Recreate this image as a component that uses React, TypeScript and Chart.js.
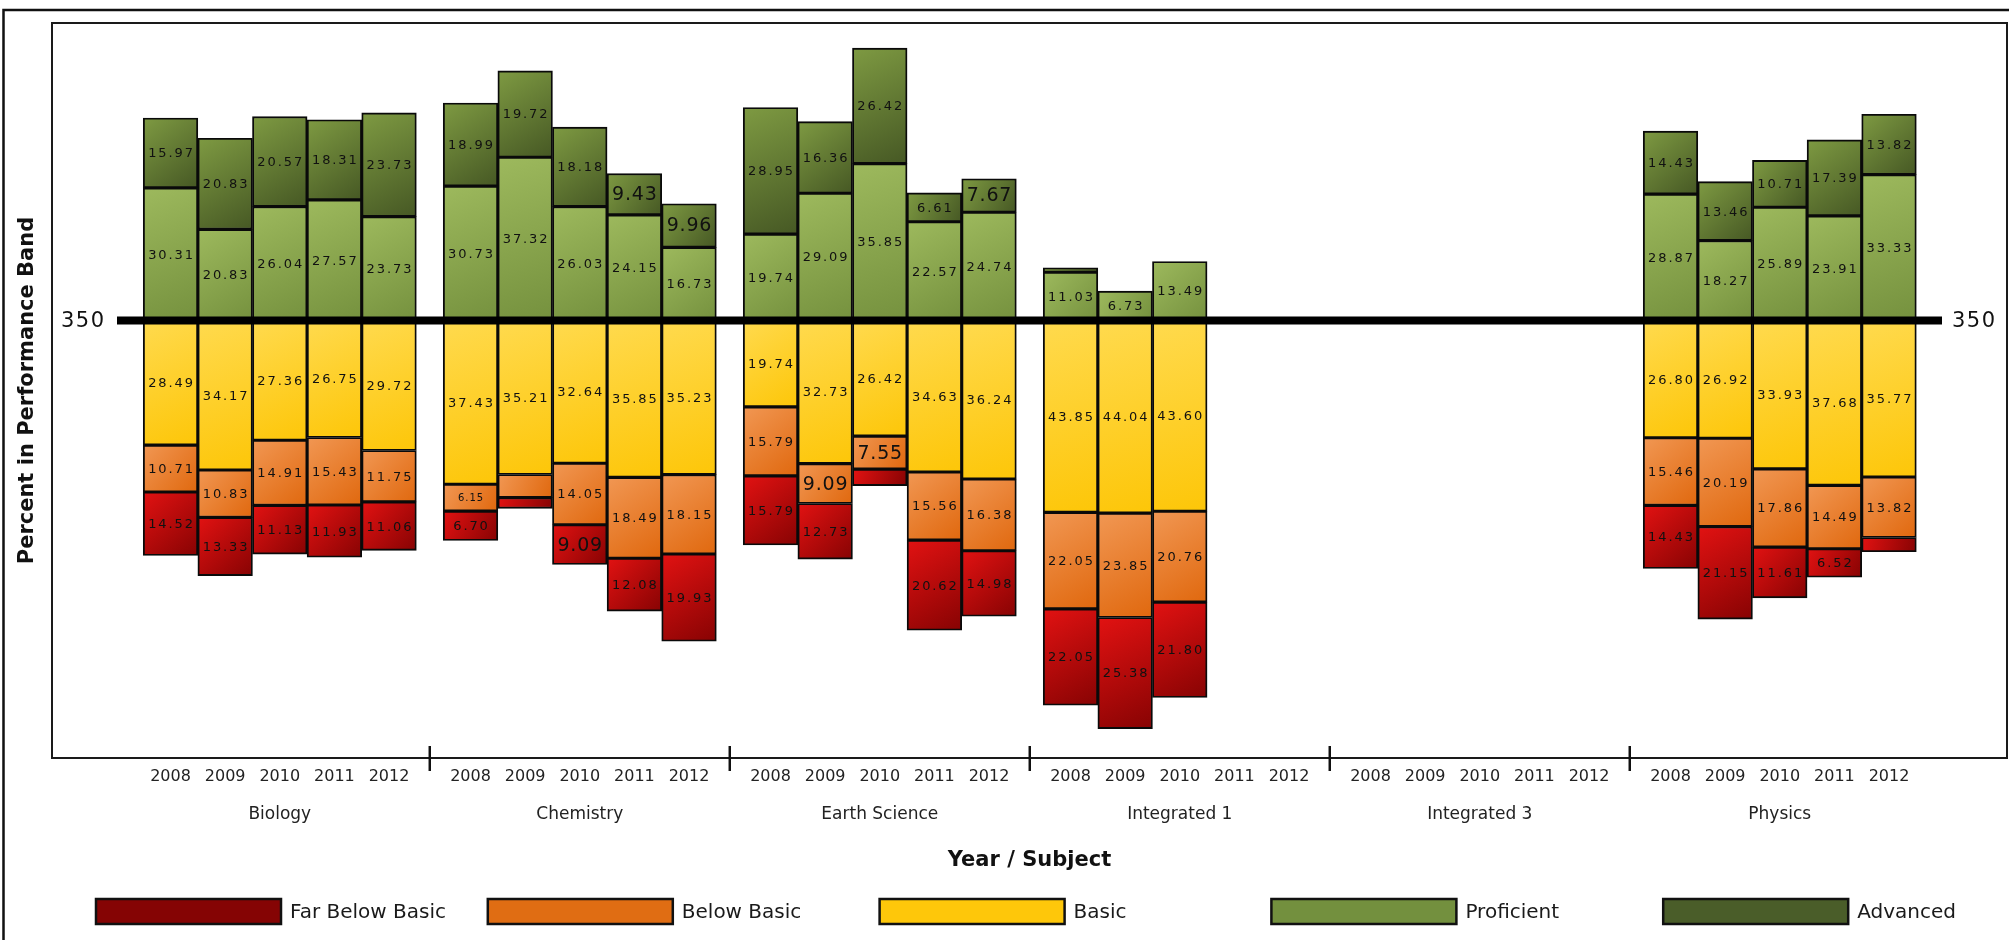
import { useEffect, useRef } from 'react';
import { Chart, registerables } from 'chart.js';

Chart.register(...registerables);

// ---------------- data ----------------
const SUBJECTS = ['Biology', 'Chemistry', 'Earth Science', 'Integrated 1', 'Integrated 3', 'Physics'];
const YEARS = ['2008', '2009', '2010', '2011', '2012'];

// values are percents, ordered subject by subject, year by year (null = no data)
const FAR_BELOW_BASIC = [
  14.52, 13.33, 11.13, 11.93, 11.06,
  6.70, 2.46, 9.09, 12.08, 19.93,
  15.79, 12.73, 3.76, 20.62, 14.98,
  22.05, 25.38, 21.80, null, null,
  null, null, null, null, null,
  14.43, 21.15, 11.61, 6.52, 3.26,
];
const BELOW_BASIC = [
  10.71, 10.83, 14.91, 15.43, 11.75,
  6.15, 5.28, 14.05, 18.49, 18.15,
  15.79, 9.09, 7.55, 15.56, 16.38,
  22.05, 23.85, 20.76, null, null,
  null, null, null, null, null,
  15.46, 20.19, 17.86, 14.49, 13.82,
];
const BASIC = [
  28.49, 34.17, 27.36, 26.75, 29.72,
  37.43, 35.21, 32.64, 35.85, 35.23,
  19.74, 32.73, 26.42, 34.63, 36.24,
  43.85, 44.04, 43.60, null, null,
  null, null, null, null, null,
  26.80, 26.92, 33.93, 37.68, 35.77,
];
const PROFICIENT = [
  30.31, 20.83, 26.04, 27.57, 23.73,
  30.73, 37.32, 26.03, 24.15, 16.73,
  19.74, 29.09, 35.85, 22.57, 24.74,
  11.03, 6.73, 13.49, null, null,
  null, null, null, null, null,
  28.87, 18.27, 25.89, 23.91, 33.33,
];
const ADVANCED = [
  15.97, 20.83, 20.57, 18.31, 23.73,
  18.99, 19.72, 18.18, 9.43, 9.96,
  28.95, 16.36, 26.42, 6.61, 7.67,
  1.02, null, null, null, null,
  null, null, null, null, null,
  14.43, 13.46, 10.71, 17.39, 13.82,
];

const CUT_SCORE_LABEL = '350';
const Y_MIN = -100;
const Y_MAX = 68;

// label emphasis quirks of the original (style only)
const BIG_LABELS = new Set(['Advanced|8', 'Advanced|9', 'Far Below Basic|7', 'Below Basic|11', 'Below Basic|12', 'Advanced|14']);
const SMALL_LABELS = new Set(['Below Basic|5']);

// ---------------- layout helpers ----------------
const GROUP_STRIDE = 5.492;
const X_MIN = -2.17;
const X_MAX = 5 * GROUP_STRIDE + 4 + 2.16;
const BAR_PX = 54.6;
const FONT = 'DejaVu Sans';

const xPos = (i: number) => Math.floor(i / 5) * GROUP_STRIDE + (i % 5);
const TICK_POS = SUBJECTS.flatMap((_, g) => YEARS.map((__, j) => g * GROUP_STRIDE + j));
const GROUP_CENTERS = SUBJECTS.map((_, g) => g * GROUP_STRIDE + 2);

type Series = { label: string; values: (number | null)[]; sign: number; light: string; dark: string; solid: string };

const SERIES: Series[] = [
  { label: 'Basic', values: BASIC, sign: -1, light: '#ffda4e', dark: '#fdc608', solid: '#fec70a' },
  { label: 'Below Basic', values: BELOW_BASIC, sign: -1, light: '#f19753', dark: '#e0680e', solid: '#e06d13' },
  { label: 'Far Below Basic', values: FAR_BELOW_BASIC, sign: -1, light: '#e21212', dark: '#870303', solid: '#850404' },
  { label: 'Proficient', values: PROFICIENT, sign: 1, light: '#9db95d', dark: '#75913e', solid: '#73903e' },
  { label: 'Advanced', values: ADVANCED, sign: 1, light: '#7e9a42', dark: '#465824', solid: '#4a5d29' },
];
const LEGEND_ORDER = ['Far Below Basic', 'Below Basic', 'Basic', 'Proficient', 'Advanced'];

function makeBg(sIdx: number) {
  return (c: any) => {
    const s = SERIES[sIdx];
    const chart = c.chart;
    const area = chart.chartArea;
    if (!area || c.type !== 'data' || !chart.scales.x || !chart.scales.y) return s.solid;
    const i = c.dataIndex;
    const v = s.values[i];
    if (v == null) return s.solid;
    let start = 0;
    for (let k = 0; k < sIdx; k++) {
      if (SERIES[k].sign === s.sign) start += SERIES[k].values[i] ?? 0;
    }
    const end = start + v;
    const ys = chart.scales.y;
    const xs = chart.scales.x;
    const y0 = ys.getPixelForValue(s.sign * start);
    const y1 = ys.getPixelForValue(s.sign * end);
    const xc = xs.getPixelForValue(xPos(i));
    const g = chart.ctx.createLinearGradient(xc - BAR_PX / 2, Math.min(y0, y1), xc + BAR_PX / 2, Math.max(y0, y1));
    g.addColorStop(0, s.light);
    g.addColorStop(1, s.dark);
    return g;
  };
}

const decorPlugin = {
  id: 'decor',
  beforeDraw(chart: any) {
    const { ctx, chartArea: a } = chart;
    ctx.save();
    ctx.fillStyle = '#ffffff';
    ctx.fillRect(0, 0, chart.width, chart.height);
    ctx.strokeStyle = '#111';
    ctx.lineWidth = 2.5;
    ctx.strokeRect(3.5, 10, chart.width + 40, chart.height + 40);
    ctx.lineWidth = 2;
    ctx.strokeStyle = '#1a1a1a';
    ctx.strokeRect(a.left, a.top, a.right - a.left, a.bottom - a.top);
    ctx.restore();
  },
  afterDatasetsDraw(chart: any) {
    const { ctx, chartArea: a } = chart;
    const xs = chart.scales.x;
    const ys = chart.scales.y;
    ctx.save();
    // value labels
    ctx.textAlign = 'center';
    ctx.textBaseline = 'middle';
    ctx.fillStyle = '#111';
    chart.data.datasets.forEach((ds: any, d: number) => {
      const meta = chart.getDatasetMeta(d);
      const s = SERIES[d];
      meta.data.forEach((el: any, i: number) => {
        const v = s.values[i];
        if (v == null || v < 6) return;
        const key = s.label + '|' + i;
        let size = 13;
        let spacing = 1.9;
        if (BIG_LABELS.has(key)) { size = 19; spacing = 0.8; }
        if (SMALL_LABELS.has(key)) { size = 10; spacing = 1; }
        ctx.font = `${size}px "${FONT}"`;
        (ctx as any).letterSpacing = `${spacing}px`;
        const { x, y, base } = el.getProps(['x', 'y', 'base'], true);
        ctx.fillText(v.toFixed(2), x + spacing / 2, (y + base) / 2 + 1);
      });
    });

    // cut score line
    const y0 = ys.getPixelForValue(0);
    ctx.fillStyle = '#000';
    ctx.fillRect(a.left + 65, y0 - 4, a.right - a.left - 130, 8);
    ctx.font = `21px "${FONT}"`;
    (ctx as any).letterSpacing = '1.5px';
    ctx.textAlign = 'left';
    ctx.fillStyle = '#111';
    ctx.fillText(CUT_SCORE_LABEL, a.left + 9, y0 + 1);
    ctx.fillText(CUT_SCORE_LABEL, a.right - 55, y0 + 1);
    (ctx as any).letterSpacing = '0px';

    // group separators on the axis
    ctx.strokeStyle = '#111';
    ctx.lineWidth = 2.5;
    for (let g = 1; g < SUBJECTS.length; g++) {
      const px = xs.getPixelForValue(g * GROUP_STRIDE - (GROUP_STRIDE - 4) / 2);
      ctx.beginPath();
      ctx.moveTo(px, a.bottom - 12);
      ctx.lineTo(px, a.bottom + 13);
      ctx.stroke();
    }
    ctx.restore();
  },
  afterDraw(chart: any) {
    const { ctx } = chart;
    ctx.save();
    const top = 899;
    const h = 25;
    const w = 185;
    LEGEND_ORDER.forEach((name, k) => {
      const s = SERIES.find((q) => q.label === name)!;
      const x = 96 + k * 391.8;
      ctx.fillStyle = s.solid;
      ctx.fillRect(x, top, w, h);
      ctx.strokeStyle = '#111';
      ctx.lineWidth = 2.5;
      ctx.strokeRect(x, top, w, h);
      ctx.fillStyle = '#1a1a1a';
      ctx.font = `20px "${FONT}"`;
      ctx.textAlign = 'left';
      ctx.textBaseline = 'middle';
      ctx.fillText(name, x + w + 9, top + h / 2 + 1);
    });
    ctx.restore();
  },
};

export default function App() {
  const ref = useRef<HTMLCanvasElement | null>(null);

  useEffect(() => {
    if (!ref.current) return;
    const datasets = SERIES.map((s, sIdx) => ({
      label: s.label,
      data: s.values.map((v, i) => ({ x: xPos(i), y: v == null ? null : s.sign * v })),
      backgroundColor: makeBg(sIdx),
      borderColor: '#0a0a0a',
      borderWidth: 1.9,
      borderSkipped: false,
      barThickness: BAR_PX,
    }));

    const chart = new Chart(ref.current, {
      type: 'bar',
      data: { datasets } as any,
      plugins: [decorPlugin],
      options: {
        animation: false,
        responsive: false,
        devicePixelRatio: 1,
        events: [],
        font: { family: FONT },
        layout: { padding: { top: 23, left: 0, right: 2, bottom: 67 } },
        plugins: { legend: { display: false }, tooltip: { enabled: false }, title: { display: false } },
        scales: {
          x: {
            type: 'linear',
            position: 'bottom',
            weight: 0,
            min: X_MIN,
            max: X_MAX,
            offset: false,
            stacked: true,
            grid: { display: false, drawTicks: false },
            border: { display: false },
            afterBuildTicks: (s: any) => { s.ticks = TICK_POS.map((v) => ({ value: v })); },
            afterFit: (s: any) => { s.height = 36; },
            ticks: {
              autoSkip: false,
              maxRotation: 0,
              minRotation: 0,
              padding: 9,
              color: '#222',
              font: { family: FONT, size: 16 },
              callback: (_v: any, i: number) => YEARS[i % YEARS.length],
            },
          },
          x2: {
            type: 'linear',
            axis: 'x',
            position: 'bottom',
            weight: 1,
            min: X_MIN,
            max: X_MAX,
            offset: false,
            grid: { display: false, drawTicks: false },
            border: { display: false },
            afterBuildTicks: (s: any) => { s.ticks = GROUP_CENTERS.map((v) => ({ value: v })); },
            afterFit: (s: any) => { s.height = 79; },
            ticks: {
              autoSkip: false,
              maxRotation: 0,
              minRotation: 0,
              padding: 10,
              color: '#222',
              font: { family: FONT, size: 17 },
              callback: (_v: any, i: number) => SUBJECTS[i],
            },
            title: {
              display: true,
              text: 'Year / Subject',
              color: '#111',
              font: { family: FONT, size: 21, weight: 'bold' },
              padding: { top: 0, bottom: 0 },
            },
          },
          y: {
            type: 'linear',
            min: Y_MIN,
            max: Y_MAX,
            stacked: true,
            grid: { display: false, drawTicks: false },
            border: { display: false },
            ticks: { display: false },
            afterFit: (s: any) => { s.width = 52; },
            title: {
              display: true,
              text: 'Percent in Performance Band',
              color: '#111',
              font: { family: FONT, size: 21, weight: 'bold' },
              padding: { top: 15, bottom: 0 },
            },
          },
        },
      } as any,
    });
    return () => chart.destroy();
  }, []);

  return (
    <div style={{ position: 'fixed', left: 0, top: 0, width: 2009, height: 940, background: '#fff' }}>
      <canvas ref={ref} width={2009} height={940} style={{ display: 'block', width: 2009, height: 940 }} />
    </div>
  );
}
